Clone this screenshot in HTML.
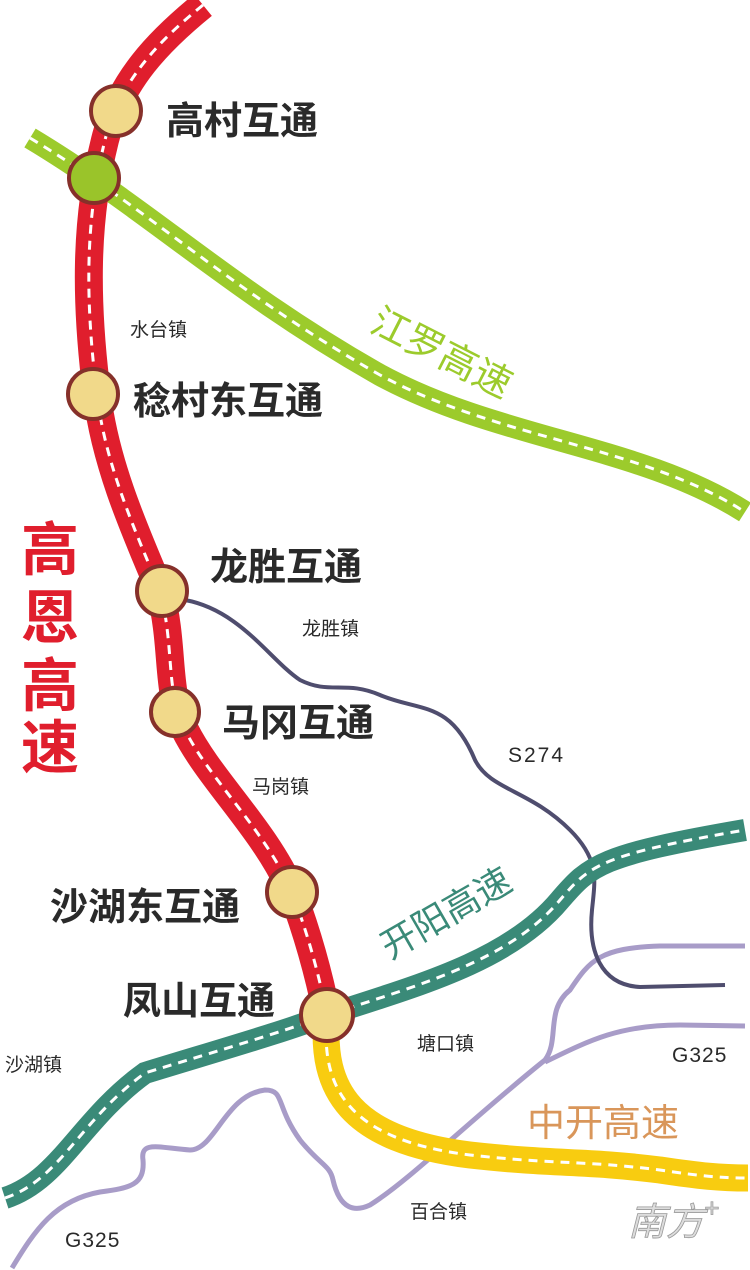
<!DOCTYPE html><html><head><meta charset="utf-8"><style>body{margin:0;background:#fff}svg{display:block}text{font-family:"Liberation Sans","Noto Sans CJK SC",sans-serif}</style></head><body>
<svg width="750" height="1270" viewBox="0 0 750 1270" xmlns="http://www.w3.org/2000/svg">
<g fill="none" stroke-linecap="butt">
<path d="M12,1268 C35,1230 55,1200 100,1192 C130,1188 145,1185 143,1160 C140,1140 160,1148 190,1150 C215,1150 225,1095 265,1090 C285,1090 275,1105 300,1140 C320,1165 330,1165 333,1180 C340,1210 355,1212 370,1205 C410,1180 470,1120 545,1060 C560,1040 545,1010 570,990 C590,960 600,948 660,946 L745,946" stroke="#a89cc8" stroke-width="5"/>
<path d="M545,1062 C590,1040 620,1025 680,1025 L745,1026" stroke="#a89cc8" stroke-width="5"/>
<path d="M185,600 C240,610 270,660 300,680 C330,695 345,680 380,695 C420,712 450,700 475,760 C490,790 530,790 570,830 C600,860 595,880 592,910 C588,950 600,985 640,987 L725,985" stroke="#4f4d6e" stroke-width="4"/>
<path d="M30,138 C150,210 230,290 380,375 C500,440 640,445 745,512" stroke="#9ccb2c" stroke-width="22"/>
<path d="M30,138 C150,210 230,290 380,375 C500,440 640,445 745,512" stroke="#fff" stroke-width="3" stroke-dasharray="9 7"/>
<path d="M5,1198 C60,1180 80,1120 145,1073 C220,1050 290,1030 327,1015 C420,985 510,960 560,900 C590,865 600,855 745,830" stroke="#3a8a78" stroke-width="22"/>
<path d="M5,1198 C60,1180 80,1120 145,1073 C220,1050 290,1030 327,1015 C420,985 510,960 560,900 C590,865 600,855 745,830" stroke="#fff" stroke-width="3" stroke-dasharray="9 7"/>
<path d="M327,1015 C320,1090 350,1140 470,1155 C560,1165 580,1160 660,1170 C700,1176 720,1178 748,1178" stroke="#f8cc10" stroke-width="27"/>
<path d="M327,1015 C320,1090 350,1140 470,1155 C560,1165 580,1160 660,1170 C700,1176 720,1178 748,1178" stroke="#fff" stroke-width="3" stroke-dasharray="9 7"/>
<path d="M203,5 C160,40 120,80 105,140 C85,220 85,300 97,395 C105,460 130,520 160,590 C175,650 165,690 185,730 C210,780 265,830 292,892 C310,940 320,980 327,1015" stroke="#e01e2d" stroke-width="28"/>
<path d="M203,5 C160,40 120,80 105,140 C85,220 85,300 97,395 C105,460 130,520 160,590 C175,650 165,690 185,730 C210,780 265,830 292,892 C310,940 320,980 327,1015" stroke="#fff" stroke-width="3" stroke-dasharray="9 7"/>
</g>
<g stroke="#86302a" stroke-width="4">
<circle cx="116" cy="111" r="25" fill="#f1d98a"/>
<circle cx="94" cy="178" r="25" fill="#9ac42a"/>
<circle cx="93" cy="394" r="25" fill="#f1d98a"/>
<circle cx="162" cy="591" r="25" fill="#f1d98a"/>
<circle cx="175" cy="712" r="24" fill="#f1d98a"/>
<circle cx="292" cy="892" r="25" fill="#f1d98a"/>
<circle cx="327" cy="1015" r="26" fill="#f1d98a"/>
</g>
<g fill="#2a2a2a" font-weight="bold" font-size="38">
<text x="166" y="134">高村互通</text>
<text x="133" y="414">稔村东互通</text>
<text x="210" y="580">龙胜互通</text>
<text x="222" y="736">马冈互通</text>
<text x="50" y="920">沙湖东互通</text>
<text x="123" y="1014">凤山互通</text>
</g>
<g fill="#2a2a2a" font-size="19">
<text x="130" y="336">水台镇</text>
<text x="302" y="635">龙胜镇</text>
<text x="252" y="793">马岗镇</text>
<text x="417" y="1050">塘口镇</text>
<text x="5" y="1071">沙湖镇</text>
<text x="410" y="1218">百合镇</text>
<text x="508" y="762" font-size="21" letter-spacing="2">S274</text>
<text x="672" y="1062" font-size="21" letter-spacing="1">G325</text>
<text x="65" y="1247" font-size="21" letter-spacing="1">G325</text>
</g>
<text font-size="58" font-weight="bold" fill="#e01e2d"><tspan x="21" y="570">高</tspan><tspan x="21" y="638">恩</tspan><tspan x="21" y="706">高</tspan><tspan x="21" y="768">速</tspan></text>
<text x="0" y="0" font-size="38" fill="#9ccb2c" transform="translate(368,330) rotate(27)">江罗高速</text>
<text x="0" y="0" font-size="36" fill="#3a8a78" transform="translate(390,960) rotate(-30)">开阳高速</text>
<text x="527" y="1136" font-size="38" fill="#d9965a">中开高速</text>
<text x="628" y="1235" font-size="38" fill="#ddd" stroke="#999" stroke-width="0.8" font-style="italic">南方<tspan font-size="26" dy="-18">+</tspan></text>
</svg>
</body></html>
